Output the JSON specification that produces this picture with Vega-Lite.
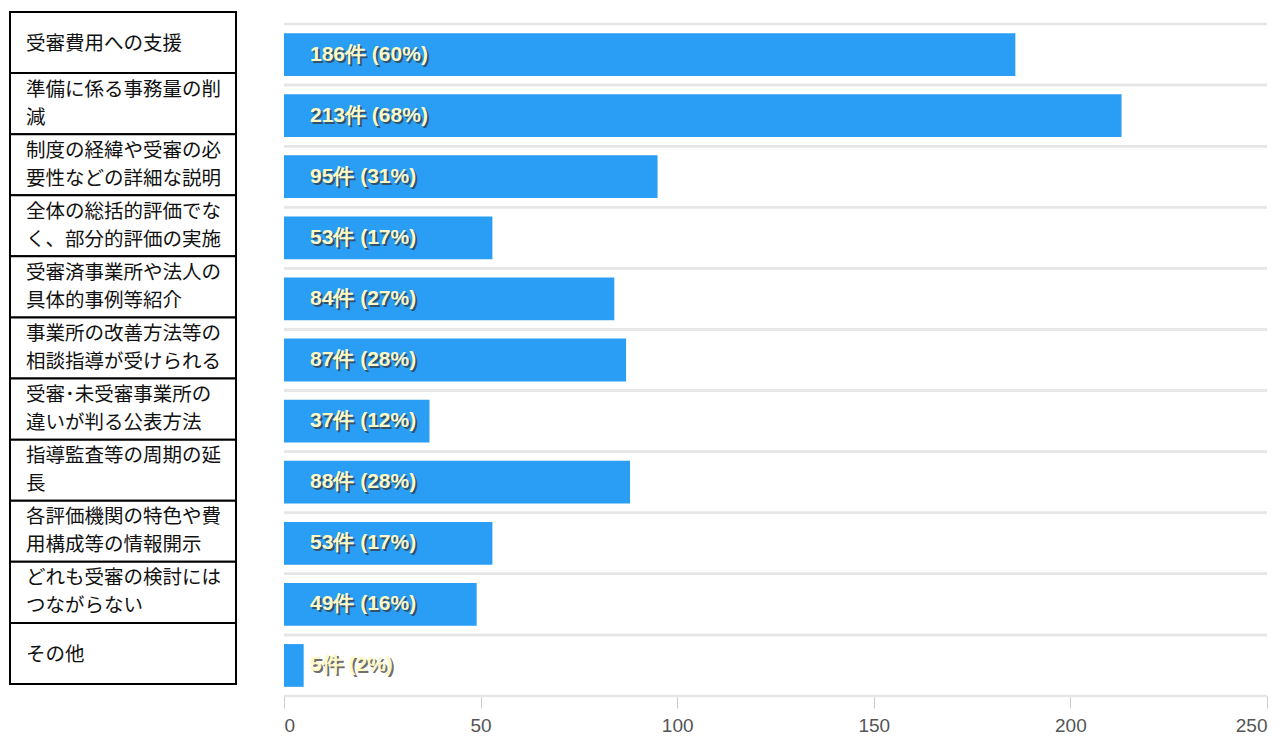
{
  "$schema": "https://vega.github.io/schema/vega-lite/v6.json",
  "background": "white",
  "padding": {"left": 9, "top": 11, "right": 0, "bottom": 0},
  "bounds": "flush",
  "spacing": 48,
  "config": {"view": {"stroke": null}},
  "data": {"values": [
    {"id": 1, "label": "受審費用への支援", "count": 186, "text": "186件 (60%)"},
    {"id": 2, "label": "準備に係る事務量の削\n減", "count": 213, "text": "213件 (68%)"},
    {"id": 3, "label": "制度の経緯や受審の必\n要性などの詳細な説明", "count": 95, "text": "95件 (31%)"},
    {"id": 4, "label": "全体の総括的評価でな\nく、部分的評価の実施", "count": 53, "text": "53件 (17%)"},
    {"id": 5, "label": "受審済事業所や法人の\n具体的事例等紹介", "count": 84, "text": "84件 (27%)"},
    {"id": 6, "label": "事業所の改善方法等の\n相談指導が受けられる", "count": 87, "text": "87件 (28%)"},
    {"id": 7, "label": "受審･未受審事業所の\n違いが判る公表方法", "count": 37, "text": "37件 (12%)"},
    {"id": 8, "label": "指導監査等の周期の延\n長", "count": 88, "text": "88件 (28%)"},
    {"id": 9, "label": "各評価機関の特色や費\n用構成等の情報開示", "count": 53, "text": "53件 (17%)"},
    {"id": 10, "label": "どれも受審の検討には\nつながらない", "count": 49, "text": "49件 (16%)"},
    {"id": 11, "label": "その他", "count": 5, "text": "5件 (2%)"}
  ]},
  "hconcat": [
    {
      "width": 226,
      "height": 672,
      "encoding": {
        "y": {"field": "id", "type": "ordinal", "sort": null, "axis": null, "scale": {"paddingInner": 0, "paddingOuter": 0}}
      },
      "layer": [
        {
          "mark": {"type": "rect", "fill": "white", "stroke": "black", "strokeWidth": 2, "yOffset": -12, "y2Offset": -12},
          "encoding": {
            "x": {"datum": 0, "type": "quantitative", "scale": {"domain": [0, 1]}, "axis": null},
            "x2": {"datum": 1}
          }
        },
        {
          "transform": [{"filter": "indexof(datum.label, '\\n') < 0"}],
          "mark": {"type": "text", "align": "left", "baseline": "middle", "dx": 16, "yOffset": -10.5, "font": "Noto Sans CJK JP", "fontSize": 19.5, "lineHeight": 28, "lineBreak": "\n", "color": "#111111"},
          "encoding": {
            "x": {"datum": 0, "type": "quantitative"},
            "text": {"field": "label"}
          }
        },
        {
          "transform": [{"filter": "indexof(datum.label, '\\n') >= 0"}],
          "mark": {"type": "text", "align": "left", "baseline": "middle", "dx": 16, "yOffset": -26, "font": "Noto Sans CJK JP", "fontSize": 19.5, "lineHeight": 28, "lineBreak": "\n", "color": "#111111"},
          "encoding": {
            "x": {"datum": 0, "type": "quantitative"},
            "text": {"field": "label"}
          }
        }
      ]
    },
    {
      "width": 983,
      "height": 672,
      "encoding": {
        "y": {"field": "id", "type": "ordinal", "sort": null,
              "scale": {"paddingInner": 0.3, "paddingOuter": 0.15},
              "axis": null}
      },
      "layer": [
        {
          "mark": {"type": "rule", "color": "#e6e6e6", "strokeWidth": 2.5, "yOffset": -9.16},
          "encoding": {
            "y": {"field": "id", "type": "ordinal", "sort": null, "bandPosition": 0}
          }
        },
        {
          "mark": {"type": "rule", "color": "#e6e6e6", "strokeWidth": 2.5, "yOffset": 9.16},
          "encoding": {
            "y": {"field": "id", "type": "ordinal", "sort": null, "bandPosition": 1}
          }
        },
        {
          "mark": {"type": "bar", "color": "#2a9df4"},
          "encoding": {
            "x": {"field": "count", "type": "quantitative", "scale": {"domain": [0, 250], "nice": false},
                  "axis": {"values": [0, 50, 100, 150, 200, 250], "grid": false, "domain": false, "ticks": true, "tickColor": "#cccccc", "tickSize": 12, "tickWidth": 1, "labelFont": "Liberation Sans", "labelFontSize": 19, "labelColor": "#555555", "labelPadding": 8, "title": null}}
          }
        },
        {
          "mark": {"type": "text", "align": "left", "baseline": "middle", "dx": 28, "dy": 2, "font": "Liberation Sans", "fontWeight": "bold", "fontSize": 21, "color": "#333333", "opacity": 0.7},
          "encoding": {
            "x": {"datum": 0, "type": "quantitative"},
            "text": {"field": "text"}
          }
        },
        {
          "mark": {"type": "text", "align": "left", "baseline": "middle", "dx": 26, "font": "Liberation Sans", "fontWeight": "bold", "fontSize": 21, "color": "#fdf9c6"},
          "encoding": {
            "x": {"datum": 0, "type": "quantitative"},
            "text": {"field": "text"}
          }
        }
      ]
    }
  ]
}
